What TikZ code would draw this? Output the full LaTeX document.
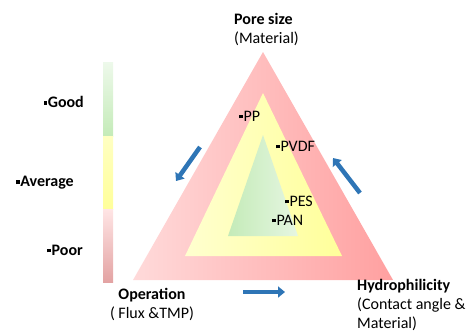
\documentclass[tikz,border=0pt]{standalone}
\usepackage{fontspec}
\setmainfont{Carlito}
\usetikzlibrary{arrows.meta}
\definecolor{redL}{HTML}{FFDADA}
\definecolor{redD}{HTML}{FFA0A0}
\definecolor{yelL}{HTML}{FFFFCF}
\definecolor{yelD}{HTML}{FFFF9A}
\definecolor{grnL}{HTML}{E6F6E2}
\definecolor{grnD}{HTML}{C4EBB8}
\definecolor{arrblue}{HTML}{2E75B6}
\definecolor{barred}{HTML}{E3A3A3}
\newcommand{\mk}{\rule[0.17em]{3.8pt}{3.8pt}\hspace{0.5pt}}
\tikzset{
  lbl/.style={inner sep=0pt, font=\fontsize{16}{19}\selectfont},
  blbl/.style={inner sep=0pt, font=\fontsize{16}{19}\selectfont\bfseries},
  barrow/.style={draw=arrblue, line width=4.5pt, -{Triangle[width=11pt,length=7pt]}},
}
\begin{document}
\begin{tikzpicture}[x=1pt,y=-1pt]
\useasboundingbox (0,0) rectangle (469,333);
% triangles
\coordinate (oA) at (263,52); \coordinate (oL) at (133,280); \coordinate (oR) at (393,280);
\coordinate (yA) at (263,93); \coordinate (yL) at (185,256); \coordinate (yR) at (342,256);
\coordinate (gA) at (263,135); \coordinate (gL) at (228,236); \coordinate (gR) at (298,236);
\shade[shading angle=60, left color=redL, right color=redD] (oA) -- (oL) -- (oR) -- cycle;
\shade[shading angle=60, left color=yelL, right color=yelD] (yA) -- (yL) -- (yR) -- cycle;
\shade[shading angle=-60, left color=grnD, right color=grnL] (gA) -- (gL) -- (gR) -- cycle;
% scale bar
\shade[top color=grnL!70!white, bottom color=grnD] (103,62) rectangle (113,136);
\shade[top color=yelD!60!white, bottom color=yelD] (103,136) rectangle (113,209);
\shade[top color=redL!70!white, bottom color=barred] (103,209) rectangle (113,282);
% scale labels
\node[blbl, anchor=east] (good) at (84,102) {\mk Good};
\node[blbl, anchor=east] (avg) at (74,183) {\mk Average};
\node[blbl, anchor=east] (poor) at (83,250) {\mk Poor};
% corner labels
\node[lbl, anchor=west, align=left] (pore) at (234,29) {\textbf{Pore size}\\(Material)};
\node[lbl, align=center] (oper) at (152,304) {\textbf{Operation}\\( Flux \&TMP)};
\node[lbl, anchor=north west, align=left] (hyd) at (357,279) {\textbf{Hydrophilicity}\\(Contact angle \&\\Material)};
% materials
\node[lbl, anchor=west] (pp) at (239,116) {\mk PP};
\node[lbl, anchor=west] (pvdf) at (276,146) {\mk PVDF};
\node[lbl, anchor=west] (pes) at (285,201) {\mk PES};
\node[lbl, anchor=west] (pan) at (272,220) {\mk PAN};
% arrows
\coordinate (b1) at (243,292); \coordinate (b2) at (285,292);
\coordinate (l1) at (200,147); \coordinate (l2) at (176,181);
\coordinate (r1) at (360,193); \coordinate (r2) at (333,158);
\draw[barrow] (b1) -- (b2);
\draw[barrow] (l1) -- (l2);
\draw[barrow] (r1) -- (r2);
\end{tikzpicture}
\end{document}
